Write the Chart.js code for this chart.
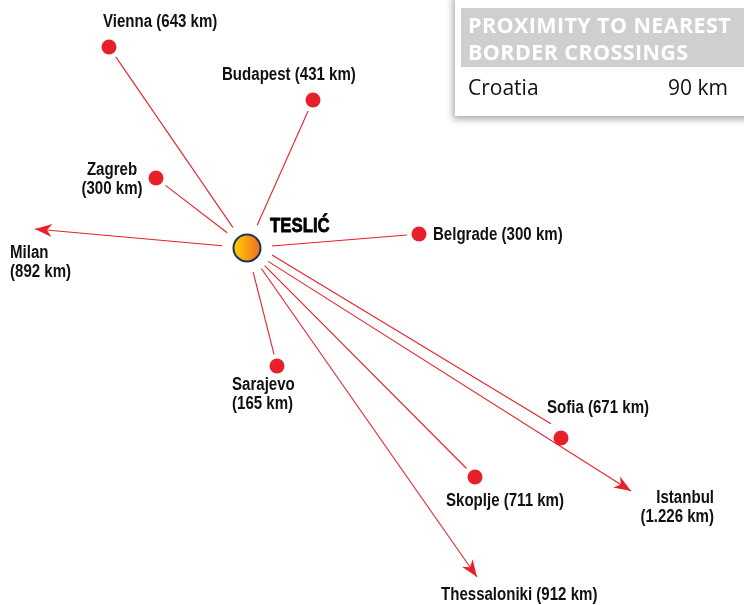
<!DOCTYPE html>
<html>
<head>
    <meta charset="utf-8">
    <script src="https://cdn.jsdelivr.net/npm/chart.js"></script>
    <title>Teslić distances</title>
    <style>
        body { margin: 0; background: #fff; overflow: hidden; }
        #wrap { position: relative; width: 744px; height: 605px; }
        #mapChart { position: absolute; left: 0; top: 0; }
        #borderBox {
            position: absolute; left: 455px; top: -6px; width: 300px; height: 122px;
            background: #fff; box-shadow: -2px 3px 7px rgba(0,0,0,0.35);
            font-family: "Open Sans", "Noto Sans", sans-serif;
        }
        #borderBox .head {
            position: absolute; left: 6px; top: 14px; right: 0; height: 59px;
            background: #cfcfcf; color: #fff; font-weight: bold; font-size: 21.5px;
            line-height: 27px; padding: 3px 0 0 7px; box-sizing: border-box; letter-spacing: 0.4px;
        }
        #borderBox .row {
            position: absolute; left: 13px; top: 79px; width: 260px;
            font-size: 21px; color: #111; display: flex; justify-content: space-between;
        }
    </style>
</head>
<body>
<div id="wrap">
    <canvas id="mapChart" width="744" height="605"></canvas>
    <div id="borderBox"></div>
</div>

<script>
    // cities and road distances from Teslić (schematic map units, 1 unit = 1px)
    const cities    = ['Vienna', 'Budapest', 'Zagreb', 'Milan', 'Belgrade', 'Sarajevo', 'Skoplje', 'Thessaloniki', 'Sofia', 'Istanbul'];
    const distances = ['643 km', '431 km', '300 km', '892 km', '300 km', '165 km', '711 km', '912 km', '671 km', '1.226 km'];
    const mapX      = [109, 313, 156, 35, 419, 277, 475, 477, 561, 631];
    const mapY      = [47, 100, 178, 229, 234, 366, 477, 577, 438, 491];
    const offMap    = [false, false, false, true, false, false, false, true, false, true];   // drawn as arrows

    const hubName = 'TESLIĆ';
    const hubX = 247;
    const hubY = 248;

    const borderTitle = ['PROXIMITY TO NEAREST', 'BORDER CROSSINGS'];
    const borderCountries = ['Croatia'];
    const borderKm = ['90 km'];

    // label layout: offset from the city, alignment, and whether the km goes on a 2nd line
    const labelLayout = {
        'Vienna':       {dx: -6,  dy: -25, align: 'left'},
        'Budapest':     {dx: -91, dy: -25, align: 'left'},
        'Zagreb':       {dx: -44, dy: -8,  align: 'center', split: true},
        'Milan':        {dx: -25, dy: 24,  align: 'left',   split: true},
        'Belgrade':     {dx: 14,  dy: 1,   align: 'left'},
        'Sarajevo':     {dx: -45, dy: 19,  align: 'left',   split: true},
        'Skoplje':      {dx: -29, dy: 24,  align: 'left'},
        'Thessaloniki': {dx: -36, dy: 18,  align: 'left'},
        'Sofia':        {dx: -14, dy: -30, align: 'left'},
        'Istanbul':     {dx: 83,  dy: 7,   align: 'right',  split: true}
    };
    const lineOffset = {'Sofia': 7};     // parallel shift so Sofia and Istanbul roads don't overlap

    const RED = '#e8202a';
    const LABEL_FONT = 'bold 17.5px "Liberation Sans", Arial, sans-serif';
    const SQUEEZE = 0.86;                // condensed look for the labels

    // border crossings box
    var box = document.getElementById('borderBox');
    box.innerHTML = '<div class="head">' + borderTitle.join('<br>') + '</div>' +
        borderCountries.map(function(c, i){
            return '<div class="row"><span>' + c + '</span><span>' + borderKm[i] + '</span></div>';
        }).join('');

    var dirTo = function(i){
        var dx = mapX[i] - hubX, dy = mapY[i] - hubY;
        var len = Math.sqrt(dx*dx + dy*dy);
        return {x: dx/len, y: dy/len};
    }

    // one line dataset per road, trimmed so it starts off the hub and stops before the dot
    var routeSets = cities.map(function(c, i){
        var d = dirTo(i);
        var off = lineOffset[c] || 0;
        var px = d.y * off, py = -d.x * off;
        var startGap = 25, endGap = offMap[i] ? 0 : 12;
        if (off) endGap = 16;
        return {
            type: 'line',
            data: [
                {x: hubX + d.x*startGap + px, y: hubY + d.y*startGap + py},
                {x: mapX[i] - d.x*endGap + px, y: mapY[i] - d.y*endGap + py}
            ],
            borderColor: RED,
            borderWidth: 1.1,
            pointRadius: 0,
            showLine: true,
            order: 3
        };
    });

    var cityDots = {
        type: 'scatter',
        data: cities.map(function(c, i){ return {x: mapX[i], y: mapY[i]}; }).filter(function(p, i){ return !offMap[i]; }),
        pointRadius: 7.5,
        pointBackgroundColor: RED,
        pointBorderWidth: 0,
        order: 2
    };

    var hubDot = {
        type: 'scatter',
        data: [{x: hubX, y: hubY}],
        pointRadius: 13.5,
        pointBorderColor: '#1d3557',
        pointBorderWidth: 2,
        pointBackgroundColor: function(context){
            var chart = context.chart;
            if (!chart.chartArea) return '#fbb116';
            var cx = chart.scales.x.getPixelForValue(hubX);
            var g = chart.ctx.createLinearGradient(cx - 14, 0, cx + 14, 0);
            g.addColorStop(0, '#ffd100');
            g.addColorStop(1, '#f26b21');
            return g;
        },
        order: 1
    };

    var squeezedText = function(ctx, text, x, y, align){
        var w = ctx.measureText(text).width * SQUEEZE;
        var left = align === 'left' ? x : (align === 'right' ? x - w : x - w/2);
        ctx.save();
        ctx.translate(left, y);
        ctx.scale(SQUEEZE, 1);
        ctx.textAlign = 'left';
        ctx.fillText(text, 0, 0);
        ctx.restore();
    }

    var mapLabels = {
        id: 'mapLabels',
        afterDatasetsDraw: function(chart){
            var ctx = chart.ctx, sx = chart.scales.x, sy = chart.scales.y;
            ctx.save();
            // arrowheads for destinations beyond the map
            cities.forEach(function(c, i){
                if (!offMap[i]) return;
                var d = dirTo(i);
                var tx = sx.getPixelForValue(mapX[i]), ty = sy.getPixelForValue(mapY[i]);
                var nx = -d.y, ny = d.x;
                ctx.beginPath();
                ctx.moveTo(tx, ty);
                ctx.lineTo(tx - d.x*17 + nx*6.5, ty - d.y*17 + ny*6.5);
                ctx.lineTo(tx - d.x*12, ty - d.y*12);
                ctx.lineTo(tx - d.x*17 - nx*6.5, ty - d.y*17 - ny*6.5);
                ctx.closePath();
                ctx.fillStyle = RED;
                ctx.fill();
            });
            // city labels
            ctx.fillStyle = '#111';
            ctx.font = LABEL_FONT;
            ctx.textBaseline = 'middle';
            cities.forEach(function(c, i){
                var L = labelLayout[c];
                var x = sx.getPixelForValue(mapX[i]) + L.dx;
                var y = sy.getPixelForValue(mapY[i]) + L.dy;
                if (L.split) {
                    squeezedText(ctx, c, x, y, L.align);
                    squeezedText(ctx, '(' + distances[i] + ')', x, y + 19, L.align);
                } else {
                    squeezedText(ctx, c + ' (' + distances[i] + ')', x, y, L.align);
                }
            });
            // hub name
            ctx.font = 'bold 21px "Liberation Sans", Arial, sans-serif';
            ctx.fillStyle = '#000';
            ctx.lineWidth = 0.8;
            ctx.strokeStyle = '#000';
            var hx = sx.getPixelForValue(hubX) + 23, hy = sy.getPixelForValue(hubY) - 22;
            ctx.save();
            ctx.translate(hx, hy);
            ctx.scale(0.8, 1);
            ctx.fillText(hubName, 0, 0);
            ctx.strokeText(hubName, 0, 0);
            ctx.restore();
            ctx.restore();
        }
    };

    var chart = new Chart(document.getElementById('mapChart'), {
        type: 'scatter',
        data: { datasets: routeSets.concat([cityDots, hubDot]) },
        options: {
            responsive: false,
            animation: false,
            layout: { padding: 0, autoPadding: false },
            plugins: { legend: { display: false }, tooltip: { enabled: false } },
            scales: {
                x: { type: 'linear', min: 0, max: 744, display: false },
                y: { type: 'linear', min: 0, max: 605, reverse: true, display: false }
            }
        },
        plugins: [mapLabels]
    });
</script>
</body>
</html>
